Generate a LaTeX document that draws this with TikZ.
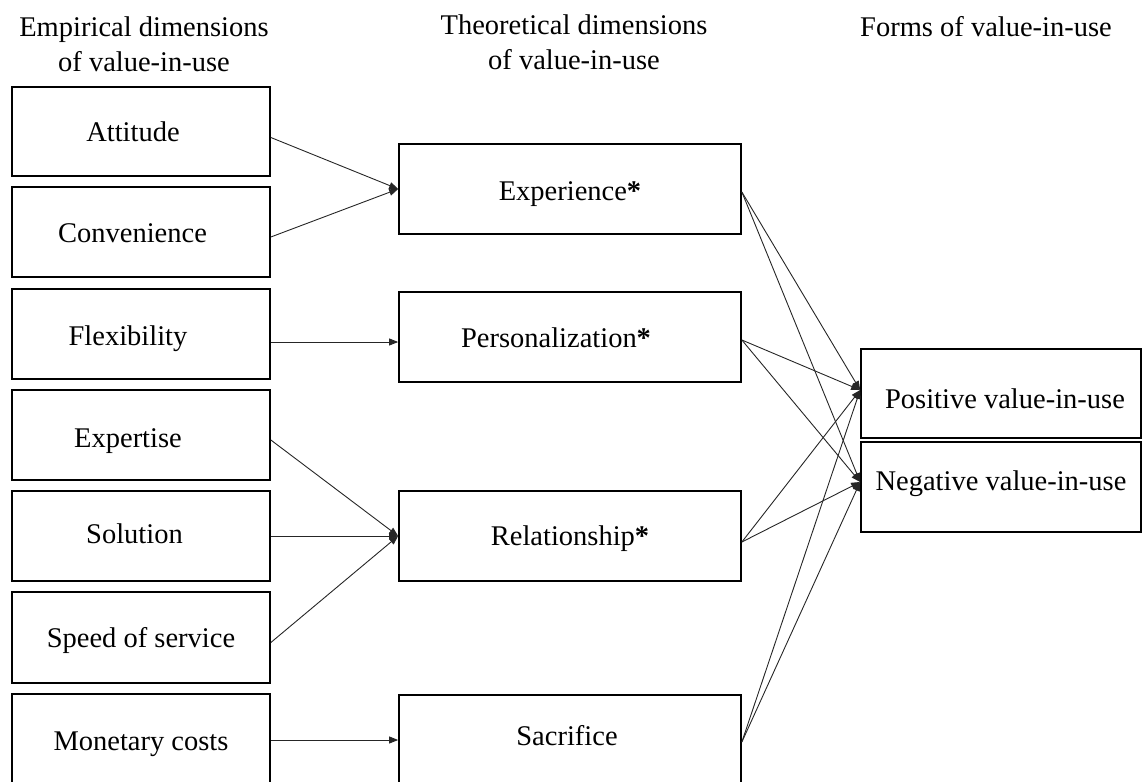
\documentclass[tikz,border=0pt]{standalone}
\usepackage{fontspec}
\setmainfont{Liberation Serif}
\usetikzlibrary{arrows.meta}
\newcommand{\fsz}{\fontsize{28.5}{35}\selectfont}
\newcommand{\shiftt}[2]{\raisebox{#1}{#2}}
\tikzset{
  box/.style={draw, line width=1.7pt, inner sep=0pt, font=\fsz, align=center, text height=24pt, text depth=4pt},
  lbox/.style={box, minimum width=258pt, minimum height=90pt},
  mbox/.style={box, minimum width=342pt, minimum height=90pt},
  rbox/.style={box, minimum width=280pt, minimum height=89.5pt},
  head/.style={font=\fsz, align=center, inner sep=0pt, anchor=base},
  conn/.style={line width=0.9pt, black!85, -{Triangle[length=9pt,width=7pt]}}
}
\begin{document}
\begin{tikzpicture}[x=1pt,y=-1pt]
\useasboundingbox (0,0) rectangle (1142,781);
\clip (0,0) rectangle (1142,781);
% headers
\node[head] (h1) at (144,37) {Empirical dimensions};
\node[head] (h1b) at (144,72) {of value-in-use};
\node[head] (h2) at (574,35) {Theoretical dimensions};
\node[head] (h2b) at (574,70) {of value-in-use};
\node[head] (h3) at (986,37) {Forms of value-in-use};
% left boxes
\node[lbox, minimum height=89pt] (att) at (141,131.5) {Attitude\hspace*{16pt}};
\node[lbox] (con) at (141,232) {Convenience\hspace*{17pt}};
\node[lbox] (flx) at (141,334) {\shiftt{-1pt}{Flexibility}\hspace*{26pt}};
\node[lbox] (exp) at (141,435) {\shiftt{-2pt}{Expertise}\hspace*{26pt}};
\node[lbox] (sol) at (141,536) {\shiftt{3pt}{Solution}\hspace*{13pt}};
\node[lbox, minimum height=91pt] (spd) at (141,637.5) {Speed of service};
\node[lbox, minimum height=92pt] (mon) at (141,740) {Monetary costs};
% middle boxes
\node[mbox] (xpr) at (570,189) {\shiftt{-1pt}{Experience\textbf{*}}};
\node[mbox] (per) at (570,337) {Personalization\textbf{*}\hspace*{28pt}};
\node[mbox] (rel) at (570,536) {\shiftt{1pt}{Relationship\textbf{*}}};
\node[mbox] (sac) at (570,740) {\shiftt{5pt}{Sacrifice}\hspace*{6pt}};
% right boxes
\node[rbox] (pos) at (1001,393.5) {\shiftt{-4.5pt}{\hspace*{8pt}Positive value-in-use}};
\node[rbox] (neg) at (1001,487) {\shiftt{7pt}{Negative value-in-use}};
% left connectors
\draw[conn] ([yshift=-6pt]att.east) -- (xpr.west);
\draw[conn] ([yshift=-5pt]con.east) -- (xpr.west);
\draw[conn] ([yshift=-8pt]flx.east) -- ([yshift=-5pt]per.west);
\draw[conn] ([yshift=-5pt]exp.east) -- (rel.west);
\draw[conn] (sol.east) -- (rel.west);
\draw[conn] ([yshift=-5pt]spd.east) -- (rel.west);
\draw[conn] (mon.east) -- (sac.west);
% right connectors
\foreach \s/\d in {xpr/-3pt, per/-3pt, rel/-6pt, sac/-2pt}{
  \draw[conn] ([yshift=\d]\s.east) -- ([yshift=3.5pt]pos.west);
  \draw[conn] ([yshift=\d]\s.east) -- ([yshift=5pt]neg.west);
}
\end{tikzpicture}
\end{document}
